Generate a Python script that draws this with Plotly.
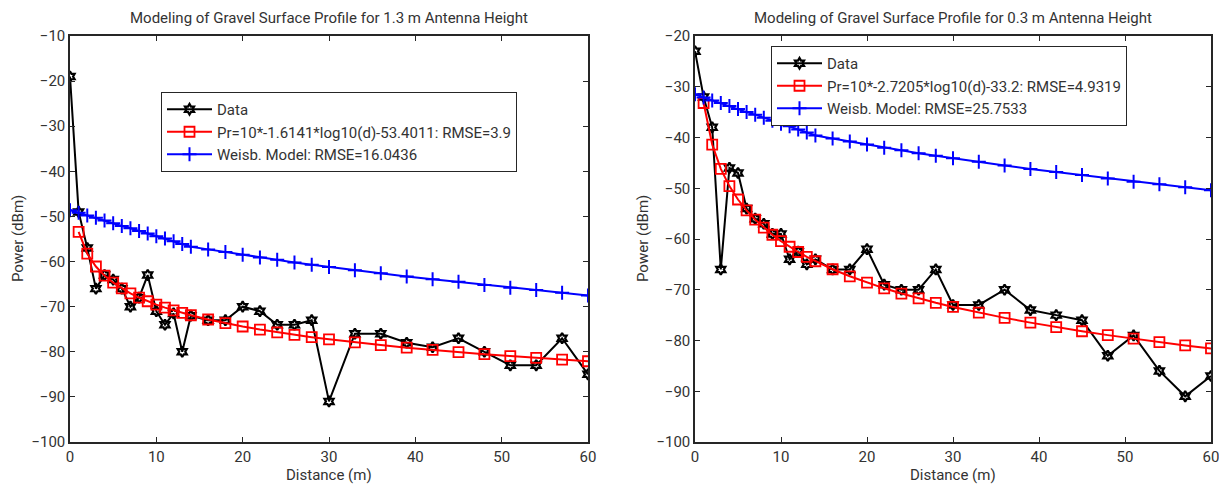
import plotly.graph_objects as go

# ---------- data ----------
distance = [0, 1, 2, 3, 4, 5, 6, 7, 8, 9, 10, 11, 12, 13, 14, 16, 18, 20, 22, 24,
            26, 28, 30, 33, 36, 39, 42, 45, 48, 51, 54, 57, 60]
fit_distance = distance[1:]

# 1.3 m antenna height
data_13 = [-19, -49, -57, -66, -63, -64, -66, -70, -68, -63, -71, -74, -71.5, -80, -72,
           -73, -73, -70, -71, -74, -74, -73, -91, -76, -76, -78, -79, -77, -80, -83,
           -83, -77, -85]
fit_13 = [-53.40, -58.26, -61.10, -63.12, -64.68, -65.96, -67.04, -67.98, -68.80, -69.54,
          -70.21, -70.82, -71.38, -71.90, -72.84, -73.66, -74.40, -75.07, -75.68, -76.24,
          -76.76, -77.24, -77.91, -78.52, -79.08, -79.60, -80.09, -80.54, -80.96, -81.36,
          -81.74, -82.10]
weisb_13 = [-48.6, -49.2, -49.8, -50.3, -50.9, -51.5, -52.1, -52.6, -53.2, -53.8, -54.4,
            -54.9, -55.5, -56.1, -56.7, -57.3, -57.9, -58.5, -59.1, -59.6, -60.2, -60.7,
            -61.2, -61.9, -62.6, -63.3, -63.9, -64.5, -65.2, -65.8, -66.3, -66.9, -67.5]

# 0.3 m antenna height
data_03 = [-23, -32, -38, -66, -46, -47, -54, -56, -57, -59, -59, -64, -62.5, -65, -64,
           -66, -66, -62, -69, -70, -70, -66, -73, -73, -70, -74, -75, -76, -83, -79,
           -86, -91, -87]
fit_03 = [-33.20, -41.39, -46.18, -49.58, -52.22, -54.37, -56.19, -57.77, -59.16, -60.41,
          -61.53, -62.56, -63.51, -64.38, -65.96, -67.35, -68.59, -69.72, -70.75, -71.69,
          -72.57, -73.39, -74.51, -75.54, -76.48, -77.36, -78.18, -78.94, -79.65, -80.33,
          -80.97, -81.57]
weisb_03 = [-31.5, -32.1, -32.7, -33.2, -33.8, -34.4, -35.0, -35.5, -36.1, -36.7, -37.3,
            -37.8, -38.4, -39.0, -39.6, -40.2, -40.8, -41.4, -42.0, -42.5, -43.1, -43.6,
            -44.1, -44.8, -45.5, -46.2, -46.8, -47.4, -48.1, -48.7, -49.2, -49.8, -50.4]

titles = ["Modeling of Gravel Surface Profile for 1.3 m Antenna Height",
          "Modeling of Gravel Surface Profile for 0.3 m Antenna Height"]
fit_labels = ["Pr=10*-1.6141*log10(d)-53.4011: RMSE=3.9",
              "Pr=10*-2.7205*log10(d)-33.2: RMSE=4.9319"]
weisb_labels = ["Weisb. Model: RMSE=16.0436", "Weisb. Model: RMSE=25.7533"]
x_ticks = [0, 10, 20, 30, 40, 50, 60]
y_ranges = [[-100, -10], [-100, -20]]

# ---------- style ----------
OFF = 8                      # default page body margin
W, H = 1227 - OFF, 486 - OFF
FONT = "Roboto"
TXT = "#333333"
AX = "#262626"
FS = 15


def px(x):
    return (x - OFF) / W


def py(y):
    return 1 - (y - OFF) / H


x_domains = [[px(70), px(588)], [px(695), px(1211)]]
y_domain = [py(442), py(36)]

fig = go.Figure()
panels = [(data_13, fit_13, weisb_13), (data_03, fit_03, weisb_03)]
for i, (dat, fit, wb) in enumerate(panels):
    xa = "x" if i == 0 else "x2"
    ya = "y" if i == 0 else "y2"
    lg = "legend" if i == 0 else "legend2"
    fig.add_trace(go.Scatter(
        x=distance, y=dat, mode="lines+markers", name="Data",
        line=dict(color="black", width=2),
        marker=dict(symbol="hexagram-open", size=8, color="black", line=dict(width=2.2, color="black")),
        xaxis=xa, yaxis=ya, legend=lg))
    fig.add_trace(go.Scatter(
        x=fit_distance, y=fit, mode="lines+markers", name=fit_labels[i],
        line=dict(color="red", width=2),
        marker=dict(symbol="square-open", size=10, color="red", line=dict(width=1.8, color="red")),
        xaxis=xa, yaxis=ya, legend=lg))
    fig.add_trace(go.Scatter(
        x=distance, y=wb, mode="lines+markers", name=weisb_labels[i],
        line=dict(color="blue", width=2),
        marker=dict(symbol="cross-thin-open", size=10, color="blue", line=dict(width=2, color="blue")),
        xaxis=xa, yaxis=ya, legend=lg))

axis_common = dict(showgrid=False, zeroline=False, showline=True, mirror="allticks",
                   linecolor=AX, linewidth=1.5, ticks="inside", ticklen=5,
                   tickwidth=1, tickcolor=AX, automargin=False,
                   tickfont=dict(family=FONT, size=FS, color=TXT))

layout = dict(
    width=W, height=H, margin=dict(l=0, r=0, t=0, b=0),
    paper_bgcolor="white", plot_bgcolor="white",
    font=dict(family=FONT, size=FS, color=TXT),
)
for i in range(2):
    sx = "" if i == 0 else "2"
    layout["xaxis" + sx] = dict(axis_common, domain=x_domains[i], range=[0, 60],
                                tickvals=x_ticks, anchor="y" + sx, ticklabelstandoff=0)
    layout["yaxis" + sx] = dict(axis_common, domain=y_domain, range=y_ranges[i],
                                dtick=10, anchor="x" + sx)

leg_common = dict(bgcolor="white", bordercolor=AX, borderwidth=1,
                  font=dict(family=FONT, size=FS, color=TXT),
                  xanchor="left", yanchor="top", tracegroupgap=0, itemwidth=45,
                  traceorder="normal")
layout["legend"] = dict(leg_common, x=px(161), y=py(92))
layout["legend2"] = dict(leg_common, x=px(771), y=py(46))
fig.update_layout(**layout)

annotations = []
for i in range(2):
    cx = (x_domains[i][0] + x_domains[i][1]) / 2
    annotations.append(dict(text=titles[i], x=cx, y=py(18), xref="paper", yref="paper",
                            showarrow=False, xanchor="center", yanchor="middle",
                            font=dict(family=FONT, size=FS, color=TXT)))
    annotations.append(dict(text="Distance (m)", x=cx, y=py(475), xref="paper", yref="paper",
                            showarrow=False, xanchor="center", yanchor="middle",
                            font=dict(family=FONT, size=FS, color=TXT)))
    ylx = [18, 643][i]
    annotations.append(dict(text="Power (dBm)", x=px(ylx), y=py(239), xref="paper", yref="paper",
                            showarrow=False, xanchor="center", yanchor="middle", textangle=-90,
                            font=dict(family=FONT, size=FS, color=TXT)))
fig.update_layout(annotations=annotations)

fig.write_html("out.html")
